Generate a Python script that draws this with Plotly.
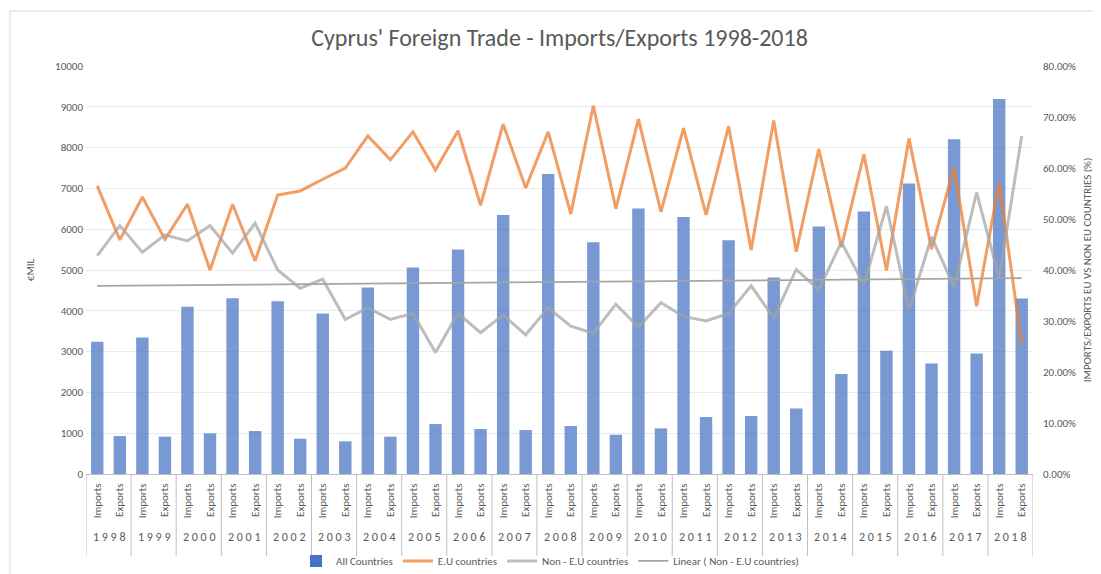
import numpy as np
import plotly.graph_objects as go

years = [str(y) for y in range(1998, 2019)]
flows = ["Imports", "Exports"]

all_countries = [
    3240, 930, 3348, 915, 4098, 996, 4310, 1053, 4237, 865,
    3935, 800, 4572, 915, 5062, 1224, 5503, 1102, 6351, 1077,
    7355, 1175, 5682, 963, 6506, 1118, 6302, 1396, 5731, 1420,
    4817, 1608, 6066, 2449, 6433, 3020, 7119, 2711, 8205, 2955,
    9193, 4302,
]
eu_share = [
    0.565, 0.459, 0.543, 0.460, 0.529, 0.400, 0.529, 0.418, 0.547, 0.555,
    0.578, 0.600, 0.663, 0.616, 0.671, 0.596, 0.673, 0.527, 0.686, 0.561,
    0.671, 0.510, 0.722, 0.520, 0.696, 0.514, 0.678, 0.508, 0.682, 0.439,
    0.693, 0.436, 0.637, 0.445, 0.627, 0.399, 0.658, 0.441, 0.601, 0.329,
    0.572, 0.253,
]
non_eu_share = [
    0.428, 0.487, 0.435, 0.469, 0.457, 0.487, 0.433, 0.492, 0.400, 0.364,
    0.382, 0.303, 0.326, 0.303, 0.315, 0.238, 0.315, 0.277, 0.312, 0.273,
    0.326, 0.290, 0.276, 0.333, 0.288, 0.336, 0.309, 0.300, 0.315, 0.369,
    0.306, 0.401, 0.361, 0.455, 0.371, 0.525, 0.322, 0.465, 0.367, 0.552,
    0.384, 0.663,
]

n = len(all_countries)
xi = np.arange(n)
flow_labels = [flows[i % 2] for i in range(n)]
coef = np.polyfit(xi, non_eu_share, 1)
trend = np.polyval(coef, xi)

FONT = "Carlito, Calibri, 'Open Sans', Lato, sans-serif"
TXT = "#595959"

fig = go.Figure()
fig.add_trace(go.Bar(
    x=xi, y=all_countries, name="All Countries",
    marker=dict(color="#4472C4", opacity=0.72, line=dict(width=0)),
))
fig.add_trace(go.Scatter(
    x=xi, y=eu_share, name="E.U countries", yaxis="y2", mode="lines",
    line=dict(color="#ED7D31", width=3), opacity=0.75,
))
fig.add_trace(go.Scatter(
    x=xi, y=non_eu_share, name="Non - E.U countries", yaxis="y2", mode="lines",
    line=dict(color="#A5A5A5", width=3), opacity=0.72,
))
fig.add_trace(go.Scatter(
    x=xi, y=trend, name="Linear ( Non - E.U countries)", yaxis="y2", mode="lines",
    line=dict(color="#A5A5A5", width=1.8),
))

shapes = []
for k in range(len(years) + 1):
    shapes.append(dict(type="line", xref="x", yref="paper",
                       x0=2 * k - 0.5, x1=2 * k - 0.5, y0=0, y1=-0.201,
                       line=dict(color="#BFBFBF", width=1)))
shapes.append(dict(type="rect", xref="paper", yref="paper",
                   x0=-0.0803, x1=1.08, y0=-0.3, y1=1.135,
                   line=dict(color="#D9D9D9", width=1), layer="below"))

annotations = []
for k, yr in enumerate(years):
    annotations.append(dict(x=2 * k + 0.5, y=-0.155, xref="x", yref="paper",
                            text=" ".join(yr), showarrow=False, yanchor="middle",
                            font=dict(size=12, color=TXT, family=FONT)))

fig.update_layout(
    width=1101, height=574,
    margin=dict(l=78, r=76, t=58, b=108, autoexpand=False),
    paper_bgcolor="white", plot_bgcolor="white",
    font=dict(family=FONT, color=TXT, size=11),
    title=dict(text="Cyprus' Foreign Trade - Imports/Exports 1998-2018",
               x=0.5, xref="paper", y=0.949, yanchor="middle",
               font=dict(size=24, color=TXT, family=FONT, weight=300)),
    bargap=0.45,
    showlegend=True,
    legend=dict(orientation="h", x=0.49, xanchor="center", y=-0.213, yanchor="middle",
                font=dict(size=11, color=TXT), bgcolor="rgba(0,0,0,0)",
                itemwidth=30, tracegroupgap=0),
    xaxis=dict(range=[-0.5, n - 0.5], tickmode="array", tickvals=list(xi),
               ticktext=flow_labels, tickangle=-90, ticks="", automargin=False,
               ticklabelstandoff=4,
               showline=True, linecolor="#BFBFBF", showgrid=False,
               tickfont=dict(size=11, color=TXT), zeroline=False),
    yaxis=dict(range=[0, 10000], dtick=1000, tickformat="d", showgrid=True,
               gridcolor="#EBEBEB", automargin=False, ticklabelstandoff=2,
               zeroline=False, showline=False, tickfont=dict(size=11, color=TXT),
               title=dict(text="€MIL", font=dict(size=11, color=TXT), standoff=18)),
    yaxis2=dict(range=[0, 0.8], dtick=0.1, tickformat=".2%", overlaying="y",
                side="right", showgrid=False, zeroline=False, showline=False,
                automargin=False, ticklabelstandoff=9, tickfont=dict(size=11, color=TXT),
                title=dict(text="IMPORTS/EXPORTS EU VS NON EU COUNTRIES (%)",
                           font=dict(size=11, color=TXT), standoff=8)),
    shapes=shapes,
    annotations=annotations,
)

fig.write_html("out.html")
